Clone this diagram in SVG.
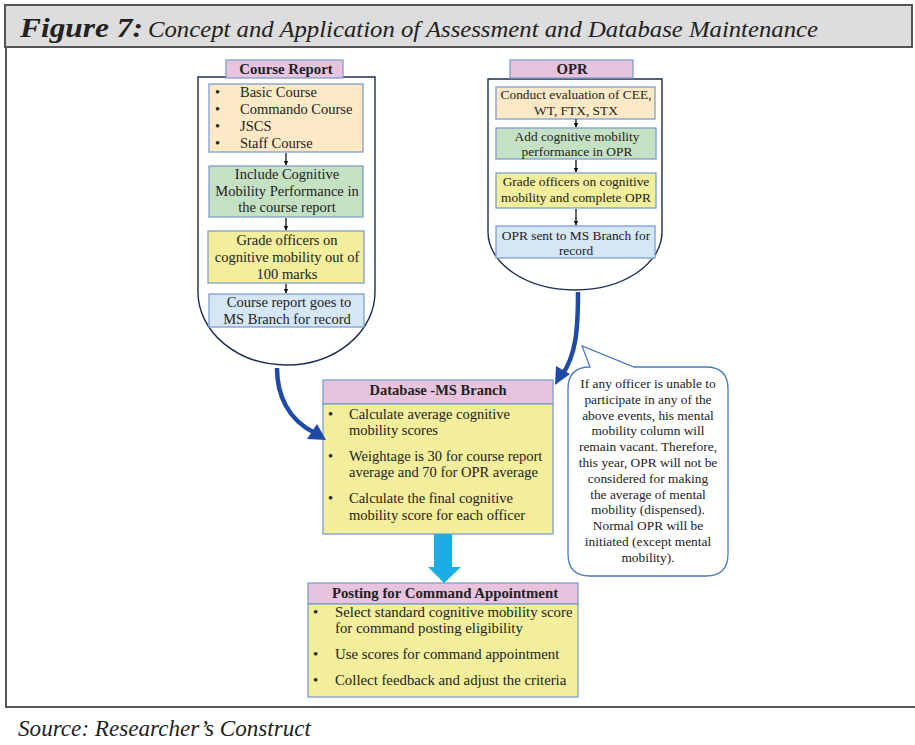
<svg xmlns="http://www.w3.org/2000/svg" width="915" height="745" viewBox="0 0 915 745">
  <style>
    .t { font-family: "Liberation Serif", "Times New Roman", serif; fill: #222; }
    .c { text-anchor: middle; }
    .b { font-weight: bold; }
    .s148 { font-size: 14.8px; }
    .s145 { font-size: 14.5px; }
    .s135 { font-size: 13.4px; }
    .box { stroke: #7d9fcc; stroke-width: 1.3; }
    .hdr { fill: #e8c3de; }
    .org { fill: #fde9c6; }
    .grn { fill: #c5e1c4; }
    .yel { fill: #f2ee9b; }
    .blu { fill: #d5e6f5; }
    .cont { fill: #fff; stroke: #1d2b57; stroke-width: 1.4; }
    .step { stroke: #111; stroke-width: 1.3; fill: none; marker-end: url(#small); }
    .flow { stroke: #1f4aa6; stroke-width: 4.5; fill: none; }
  </style>
  <defs>
    <marker id="small" viewBox="0 0 10 10" refX="9" refY="5" markerWidth="5" markerHeight="5" orient="auto" markerUnits="userSpaceOnUse">
      <path d="M0,0 L10,5 L0,10 Z" fill="#111"/>
    </marker>
  </defs>

  <!-- frame and title bar -->
  <g id="frame">
    <rect x="5" y="5" width="907" height="42" fill="#dddddd" stroke="#555" stroke-width="2"/>
    <line x1="6" y1="47" x2="6" y2="707" stroke="#555" stroke-width="2"/>
    <line x1="5" y1="707" x2="915" y2="707" stroke="#555" stroke-width="2"/>
    <text x="20" y="37" class="t" font-size="28" font-style="italic" font-weight="bold" textLength="123" lengthAdjust="spacingAndGlyphs">Figure 7:</text>
    <text x="148" y="37" class="t" font-size="23" font-style="italic" textLength="670" lengthAdjust="spacingAndGlyphs">Concept and Application of  Assessment and Database Maintenance</text>
    <text x="18" y="736" class="t" font-size="24" font-style="italic" textLength="293" lengthAdjust="spacingAndGlyphs">Source: Researcher’s Construct</text>
  </g>

  <!-- Course Report column -->
  <g id="course-report">
    <path class="cont" d="M198,77 L375,77 L375,292 A88.5,73 0 0 1 198,292 Z"/>
    <rect x="226" y="60" width="117" height="18" class="box hdr"/>
    <text x="286" y="74" class="t c b s148">Course Report</text>

    <rect x="209" y="84" width="154" height="68" class="box org"/>
    <g class="t s145">
      <text x="215" y="97">•</text><text x="240" y="97">Basic Course</text>
      <text x="215" y="114">•</text><text x="240" y="114">Commando Course</text>
      <text x="215" y="131">•</text><text x="240" y="131">JSCS</text>
      <text x="215" y="148">•</text><text x="240" y="148">Staff Course</text>
    </g>

    <rect x="209" y="166" width="154" height="51" class="box grn"/>
    <g class="t c s145">
      <text x="287" y="179">Include Cognitive</text>
      <text x="287" y="196">Mobility Performance in</text>
      <text x="287" y="212">the course report</text>
    </g>

    <rect x="208" y="231" width="156" height="52" class="box yel"/>
    <g class="t c s145">
      <text x="287" y="245">Grade officers on</text>
      <text x="287" y="262">cognitive mobility out of</text>
      <text x="287" y="279">100 marks</text>
    </g>

    <rect x="209" y="294" width="155" height="33" class="box blu"/>
    <g class="t c s145">
      <text x="289" y="307">Course report goes to</text>
      <text x="287" y="324">MS Branch for record</text>
    </g>
  </g>

  <!-- OPR column -->
  <g id="opr">
    <path class="cont" d="M488,79 L662,79 L662,232 A87,58 0 0 1 488,232 Z"/>
    <rect x="510" y="60" width="123" height="18" class="box hdr"/>
    <text x="572" y="74" class="t c b s148">OPR</text>

    <rect x="496" y="87" width="159" height="32" class="box org"/>
    <g class="t c s135">
      <text x="576" y="99">Conduct evaluation of CEE,</text>
      <text x="576" y="115">WT, FTX, STX</text>
    </g>

    <rect x="496" y="128" width="160" height="31" class="box grn"/>
    <g class="t c s135">
      <text x="577" y="141">Add cognitive mobility</text>
      <text x="577" y="156">performance in OPR</text>
    </g>

    <rect x="496" y="173" width="160" height="35" class="box yel"/>
    <g class="t c s135">
      <text x="576" y="186">Grade officers on cognitive</text>
      <text x="576" y="202">mobility and complete OPR</text>
    </g>

    <rect x="496" y="226" width="159" height="32" class="box blu"/>
    <g class="t c s135">
      <text x="576" y="240">OPR sent to MS Branch for</text>
      <text x="576" y="255">record</text>
    </g>
  </g>

  <!-- Database node -->
  <g id="database">
    <rect x="323" y="380" width="230" height="24" class="box hdr"/>
    <rect x="323" y="404" width="230" height="130" class="box yel"/>
    <text x="438" y="395" class="t c b s145">Database -MS Branch</text>
    <g class="t s145">
      <text x="328" y="419">•</text><text x="349" y="419">Calculate average cognitive</text>
      <text x="349" y="435">mobility scores</text>
      <text x="328" y="461">•</text><text x="349" y="461">Weightage is 30 for course report</text>
      <text x="349" y="477">average and 70 for OPR average</text>
      <text x="328" y="503">•</text><text x="349" y="503">Calculate the final cognitive</text>
      <text x="349" y="520">mobility score for each officer</text>
    </g>
  </g>

  <!-- Posting node -->
  <g id="posting">
    <rect x="308" y="583" width="270" height="21" class="box hdr"/>
    <rect x="308" y="604" width="270" height="93" class="box yel"/>
    <text x="445" y="598" class="t c b s148">Posting for Command Appointment</text>
    <g class="t s148">
      <text x="313" y="617">•</text><text x="335" y="617">Select standard cognitive mobility score</text>
      <text x="335" y="633">for command posting eligibility</text>
      <text x="313" y="659">•</text><text x="335" y="659">Use scores for command appointment</text>
      <text x="313" y="685">•</text><text x="335" y="685">Collect feedback and adjust the criteria</text>
    </g>
  </g>

  <!-- Note callout -->
  <g id="note">
    <path d="M590,367 L582,346 L634,367 L706,367 Q728,367 728,389 L728,554 Q728,576 706,576 L590,576 Q568,576 568,554 L568,389 Q568,367 590,367 Z" fill="#fff" stroke="#4a78c4" stroke-width="1.3"/>
    <g class="t c s135">
      <text x="648" y="388">If any officer is unable to</text>
      <text x="648" y="404">participate in any of the</text>
      <text x="648" y="420">above events, his mental</text>
      <text x="648" y="435">mobility column will</text>
      <text x="648" y="451">remain vacant. Therefore,</text>
      <text x="648" y="467">this year, OPR will not be</text>
      <text x="648" y="483">considered for making</text>
      <text x="648" y="499">the average of mental</text>
      <text x="648" y="514">mobility (dispensed).</text>
      <text x="648" y="530">Normal OPR will be</text>
      <text x="648" y="546">initiated (except mental</text>
      <text x="648" y="562">mobility).</text>
    </g>
  </g>

  <!-- connectors -->
  <g id="connectors">
    <line x1="286" y1="153" x2="286" y2="165" class="step"/>
    <line x1="286" y1="218" x2="286" y2="230" class="step"/>
    <line x1="286" y1="284" x2="286" y2="293" class="step"/>
    <line x1="576" y1="119" x2="576" y2="127" class="step"/>
    <line x1="576" y1="160" x2="576" y2="172" class="step"/>
    <line x1="576" y1="209" x2="576" y2="225" class="step"/>

    <path class="flow" d="M277,368 C277,395 288,420 315,433"/>
    <path d="M326,440 L307,439 L317,424 Z" fill="#1f4aa6"/>
    <path class="flow" d="M578,292 C578,330 576,355 562,375"/>
    <path d="M555,385 L556,366 L570,374 Z" fill="#1f4aa6"/>

    <path d="M434,534 L452,534 L452,567 L461,567 L444,583 L428,567 L434,567 Z" fill="#1aaee5"/>
  </g>
</svg>
